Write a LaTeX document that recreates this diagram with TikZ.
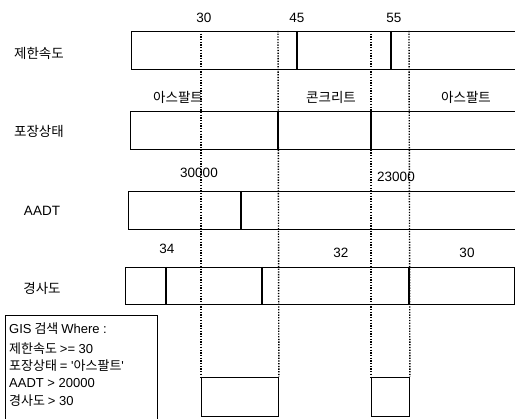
\documentclass[tikz,border=0pt]{standalone}
\usepackage{fontspec}
\setmainfont{Noto Sans CJK KR}
\newfontfamily\lat{Liberation Sans}
\begin{document}
\begin{tikzpicture}[x=1pt,y=-1pt,
  bar/.style={line width=0.9pt},
  seg/.style={line width=1.2pt},
  guide/.style={line width=1.4pt, dash pattern=on 1.3pt off 1.4pt},
  lbl/.style={font=\fontsize{13.5}{15}\selectfont\lat, inner sep=0pt},
  klbl/.style={font=\fontsize{13.5}{15}\selectfont, inner sep=0pt},
  qtext/.style={font=\fontsize{13}{15}\selectfont, inner sep=0pt, anchor=west}]
\useasboundingbox (0,0) rectangle (515,419);
% row labels
\node[klbl] (r1) at (39,53) {제한속도};
\node[klbl] (r2) at (39,131) {포장상태};
\node[lbl] (r3) at (42,211) {AADT};
\node[klbl] (r4) at (42,288) {경사도};
% bars (open on the right for first three)
\draw[bar] (515,31) -- (131,31) -- (131,69) -- (515,69);
\draw[bar] (515,111) -- (130,111) -- (130,149) -- (515,149);
\draw[bar] (515,191) -- (128,191) -- (128,229) -- (515,229);
\draw[bar] (125,267) rectangle (514,304);
% segment dividers
\draw[seg] (297,31) -- (297,69);
\draw[seg] (391,31) -- (391,69);
\draw[seg] (278,111) -- (278,149);
\draw[seg] (371,111) -- (371,149);
\draw[seg] (241,191) -- (241,229);
\draw[seg] (166,267) -- (166,304);
\draw[seg] (262,267) -- (262,304);
\draw[seg] (409,267) -- (409,304);
% values
\node[lbl] (v30) at (204,18) {30};
\node[lbl] (v45) at (297,18) {45};
\node[lbl] (v55) at (394,18) {55};
\node[klbl] (a1) at (178,97) {아스팔트};
\node[klbl] (c1) at (331,97) {콘크리트};
\node[klbl] (a2) at (466,97) {아스팔트};
\node[lbl] (t1) at (199,173) {30000};
\node[lbl] (t2) at (396,177) {23000};
\node[lbl] (s1) at (167,249) {34};
\node[lbl] (s2) at (341,253) {32};
\node[lbl] (s3) at (467,253) {30};
% result boxes
\node[draw, line width=0.9pt, minimum width=77pt, minimum height=39pt, inner sep=0pt, anchor=north west] (res1) at (201,377) {};
\node[draw, line width=0.9pt, minimum width=38pt, minimum height=39pt, inner sep=0pt, anchor=north west] (res2) at (371,377) {};
% guide coordinates
\coordinate (g1) at (201,31);
\coordinate (g2) at (278,31);
\coordinate (g3) at (371,31);
\coordinate (g4) at (409,31);
\draw[guide] (g1) -- (res1.north west);
\draw[guide] (g2) -- (res1.north east);
\draw[guide] (g3) -- (res2.north west);
\draw[guide] (g4) -- (res2.north east);
% query box
\draw[line width=0.9pt] (5,419) -- (5,315) -- (157,315) -- (157,419);
\node[qtext] (q1) at (9,329) {{\lat GIS} 검색 {\lat Where :}};
\node[qtext] (q2) at (9,349) {제한속도 {\lat >= 30}};
\node[qtext] (q3) at (9,366) {포장상태 {\lat = '}아스팔트{\lat '}};
\node[qtext] (q4) at (9,383) {\lat AADT > 20000};
\node[qtext] (q5) at (9,401) {경사도 {\lat > 30}};
\end{tikzpicture}
\end{document}
